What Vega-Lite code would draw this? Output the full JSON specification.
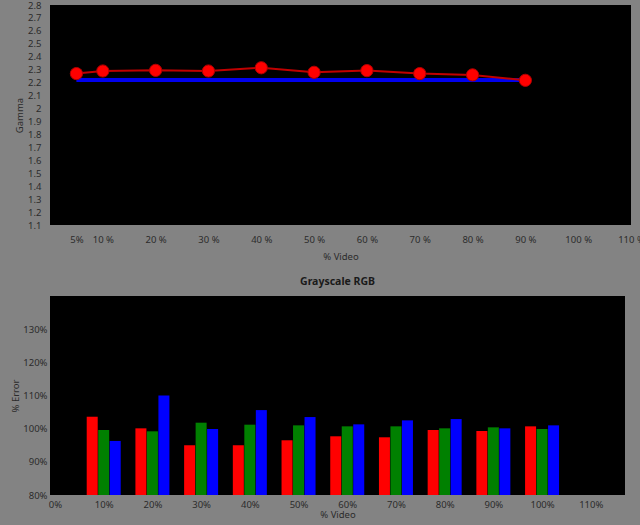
{
  "$schema": "https://vega.github.io/schema/vega-lite/v6.json",
  "autosize": {"type": "pad"},
  "padding": {"left": 10, "top": 0, "right": 0, "bottom": 10},
  "background": "#838383",
  "bounds": "flush",
  "spacing": 71,
  "config": {
    "font": "Noto Sans",
    "view": {"fill": "#000000", "stroke": null},
    "axis": {"grid": false, "ticks": false, "domain": false, "tickCount": 40, "labelOverlap": false, "labelFlush": false, "labelFont": "Noto Sans", "labelFontSize": 9.5, "labelColor": "#2b2b2b", "titleFont": "Noto Sans", "titleFontSize": 9.5, "titleFontWeight": "normal", "titleColor": "#2b2b2b"}
  },
  "datasets": {
    "gamma": [
      {"video": 5, "gamma": 2.27, "target": 2.22},
      {"video": 10, "gamma": 2.29, "target": 2.22},
      {"video": 20, "gamma": 2.295, "target": 2.22},
      {"video": 30, "gamma": 2.29, "target": 2.22},
      {"video": 40, "gamma": 2.315, "target": 2.22},
      {"video": 50, "gamma": 2.28, "target": 2.22},
      {"video": 60, "gamma": 2.293, "target": 2.22},
      {"video": 70, "gamma": 2.27, "target": 2.22},
      {"video": 80, "gamma": 2.26, "target": 2.22},
      {"video": 90, "gamma": 2.218, "target": 2.22}
    ],
    "rgb": [
      {"video": 10, "R": 103.6, "G": 99.6, "B": 96.3},
      {"video": 20, "R": 100.1, "G": 99.2, "B": 110.0},
      {"video": 30, "R": 95.0, "G": 101.8, "B": 99.9},
      {"video": 40, "R": 95.0, "G": 101.2, "B": 105.6},
      {"video": 50, "R": 96.5, "G": 101.0, "B": 103.5},
      {"video": 60, "R": 97.7, "G": 100.7, "B": 101.3},
      {"video": 70, "R": 97.4, "G": 100.7, "B": 102.5},
      {"video": 80, "R": 99.6, "G": 100.1, "B": 102.9},
      {"video": 90, "R": 99.3, "G": 100.4, "B": 100.1},
      {"video": 100, "R": 100.7, "G": 99.9, "B": 101.0}
    ]
  },
  "vconcat": [
    {
      "width": 581,
      "height": 220,
      "data": {"name": "gamma"},
      "encoding": {
        "x": {"field": "video", "type": "quantitative", "scale": {"domain": [0, 110], "nice": false},
          "axis": {"title": "% Video", "values": [5, 10, 20, 30, 40, 50, 60, 70, 80, 90, 100, 110], "labelExpr": "datum.value == 5 ? '5%' : datum.value + ' %'", "labelPadding": 9, "titlePadding": 8, "tickCount": 40}}
      },
      "layer": [
        {
          "mark": {"type": "line", "color": "#0000ee", "strokeWidth": 4},
          "encoding": {
            "y": {"field": "target", "type": "quantitative", "scale": {"domain": [1.1, 2.8], "nice": false, "zero": false},
              "axis": {"title": "Gamma", "values": [1.1, 1.2, 1.3, 1.4, 1.5, 1.6, 1.7, 1.8, 1.9, 2, 2.1, 2.2, 2.3, 2.4, 2.5, 2.6, 2.7, 2.8], "labelExpr": "format(datum.value, '.2~f')", "labelPadding": 9, "titlePadding": 3, "tickCount": 40}}
          }
        },
        {
          "mark": {"type": "line", "color": "#c00000", "strokeWidth": 2},
          "encoding": {"y": {"field": "gamma", "type": "quantitative"}}
        },
        {
          "mark": {"type": "point", "shape": "circle", "filled": true, "size": 150, "fill": "#ff0000", "stroke": "#b00000", "strokeWidth": 1, "opacity": 1},
          "encoding": {"y": {"field": "gamma", "type": "quantitative"}}
        }
      ]
    },
    {
      "width": 575,
      "height": 199,
      "title": {"text": "Grayscale RGB", "fontSize": 10.5, "fontWeight": "bold", "color": "#1a1a1a", "offset": 9, "font": "Noto Sans"},
      "data": {"name": "rgb"},
      "encoding": {
        "x": {"field": "video", "type": "quantitative", "scale": {"domain": [0, 116], "nice": false},
          "axis": {"title": "% Video", "values": [0, 10, 20, 30, 40, 50, 60, 70, 80, 90, 100, 110], "labelExpr": "datum.value + '%'", "labelPadding": 4, "titlePadding": 1, "tickCount": 40}},
        "y2": {"datum": 80}
      },
      "layer": [
        {
          "mark": {"type": "bar", "width": 11, "xOffset": -11.5, "color": "#ff0000"},
          "encoding": {
            "y": {"field": "R", "type": "quantitative", "scale": {"domain": [80, 140], "nice": false, "zero": false},
              "axis": {"title": "% Error", "values": [80, 90, 100, 110, 120, 130], "labelExpr": "datum.value + '%'", "labelPadding": 3, "titlePadding": 2, "tickCount": 40}}
          }
        },
        {
          "mark": {"type": "bar", "width": 11, "xOffset": 0, "color": "#008000"},
          "encoding": {"y": {"field": "G", "type": "quantitative"}}
        },
        {
          "mark": {"type": "bar", "width": 11, "xOffset": 11.5, "color": "#0000ff"},
          "encoding": {"y": {"field": "B", "type": "quantitative"}}
        }
      ]
    }
  ]
}
